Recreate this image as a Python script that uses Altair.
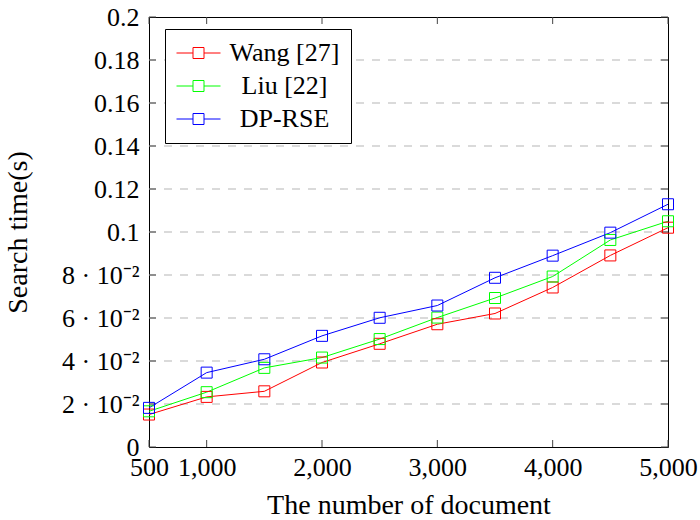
import altair as alt
import pandas as pd

docs = [500, 1000, 1500, 2000, 2500, 3000, 3500, 4000, 4500, 5000]
wang = [0.0151, 0.0233, 0.0259, 0.0393, 0.0480, 0.0571, 0.0621, 0.0742, 0.0891, 0.1020]
liu = [0.0166, 0.0255, 0.0368, 0.0416, 0.0502, 0.0602, 0.0693, 0.0793, 0.0963, 0.1050]
dprse = [0.0182, 0.0346, 0.0408, 0.0517, 0.0601, 0.0658, 0.0787, 0.0890, 0.0997, 0.1129]
series_names = ["Wang [27]", "Liu [22]", "DP-RSE"]
series_colors = ["#ff0000", "#00ff00", "#0000ff"]
x_ticks = [500, 1000, 2000, 3000, 4000, 5000]
y_ticks = [0, 0.02, 0.04, 0.06, 0.08, 0.1, 0.12, 0.14, 0.16, 0.18, 0.2]

rows = []
for name, vals in zip(series_names, [wang, liu, dprse]):
    for d, v in zip(docs, vals):
        rows.append({"docs": d, "time": v, "series": name})
df = pd.DataFrame(rows)
xt = pd.DataFrame({"v": x_ticks})
yt = pd.DataFrame({"v": y_ticks})
grid_df = pd.DataFrame({"v": y_ticks[1:-1]})

W, H = 519, 430
FONT = "Liberation Serif"
TL = 7

xs = alt.Scale(domain=[500, 5000], nice=False, zero=False)
ys = alt.Scale(domain=[0, 0.2], nice=False)
cs = alt.Scale(domain=series_names, range=series_colors)

y_label_expr = ("datum.value == 0 ? '0' : datum.value < 0.09 ? "
                "format(datum.value * 100, '.0f') + ' \u00b7 10\u207b\u00b2' : format(datum.value, '~g')")

x_axis = alt.Axis(values=x_ticks, format=",d", ticks=False, domain=False, grid=False,
                  labelOverlap=False, labelBound=False, labelFlush=False,
                  labelPadding=7, title="The number of document", titleX=W / 2, titleY=66,
                  titleBaseline="alphabetic")
y_axis = alt.Axis(values=y_ticks, labelExpr=y_label_expr, ticks=False, domain=False, grid=False,
                  labelOverlap=False, labelFlush=False,
                  labelPadding=10, title="Search time(s)", titleX=-131, titleY=H / 2,
                  titleBaseline="middle", titleAngle=270)
legend = alt.Legend(
    title=None, orient="none", legendX=16, legendY=12,
    symbolType="M-2,0H-0.5M0.5,0H2M-0.5,-0.5H0.5V0.5H-0.5Z",
    symbolSize=484, symbolStrokeWidth=1, symbolOffset=9.5, symbolFillColor="transparent",
    labelAlign="center", labelOffset=73, labelFont=FONT, labelFontSize=26,
    labelColor="black", labelLimit=400,
    strokeColor="black", fillColor="white", padding=11, rowPadding=7)

grid = alt.Chart(grid_df).mark_rule(color="#b5b5b5", strokeDash=[8, 8], strokeWidth=1).encode(
    y=alt.Y("v:Q", scale=ys, axis=y_axis)
)

lines = alt.Chart(df).mark_line(strokeWidth=1).encode(
    x=alt.X("docs:Q", scale=xs, axis=x_axis),
    y=alt.Y("time:Q", scale=ys, axis=y_axis),
    color=alt.Color("series:N", scale=cs, legend=legend),
    detail="series:N",
)

points = alt.Chart(df).mark_point(shape="square", filled=False, size=121, strokeWidth=1, opacity=1).encode(
    x=alt.X("docs:Q", scale=xs, axis=x_axis),
    y=alt.Y("time:Q", scale=ys, axis=y_axis),
    color=alt.Color("series:N", scale=cs, legend=legend),
)

tick_col = "#444444"
bottom_ticks = alt.Chart(xt).mark_rule(color=tick_col, strokeWidth=1).encode(
    x=alt.X("v:Q", scale=xs, axis=x_axis), y=alt.value(H), y2=alt.value(H - TL))
top_ticks = alt.Chart(xt).mark_rule(color=tick_col, strokeWidth=1).encode(
    x=alt.X("v:Q", scale=xs, axis=x_axis), y=alt.value(0), y2=alt.value(TL))
left_ticks = alt.Chart(yt).mark_rule(color=tick_col, strokeWidth=1).encode(
    y=alt.Y("v:Q", scale=ys, axis=y_axis), x=alt.value(0), x2=alt.value(TL))
right_ticks = alt.Chart(yt).mark_rule(color=tick_col, strokeWidth=1).encode(
    y=alt.Y("v:Q", scale=ys, axis=y_axis), x=alt.value(W - TL), x2=alt.value(W))

chart = alt.layer(grid, bottom_ticks, top_ticks, left_ticks, right_ticks, lines, points).properties(
    width=W, height=H,
    autosize=alt.AutoSizeParams(type="none"),
    padding={"left": 149, "top": 17, "right": 32, "bottom": 73},
    background="white",
).configure_view(stroke="black", strokeWidth=1).configure_axis(
    labelFont=FONT, labelFontSize=26, labelColor="black",
    titleFont=FONT, titleFontSize=28, titleFontWeight="normal", titleColor="black",
)

chart.save("out.html", embed_options={"renderer": "svg", "actions": False})
